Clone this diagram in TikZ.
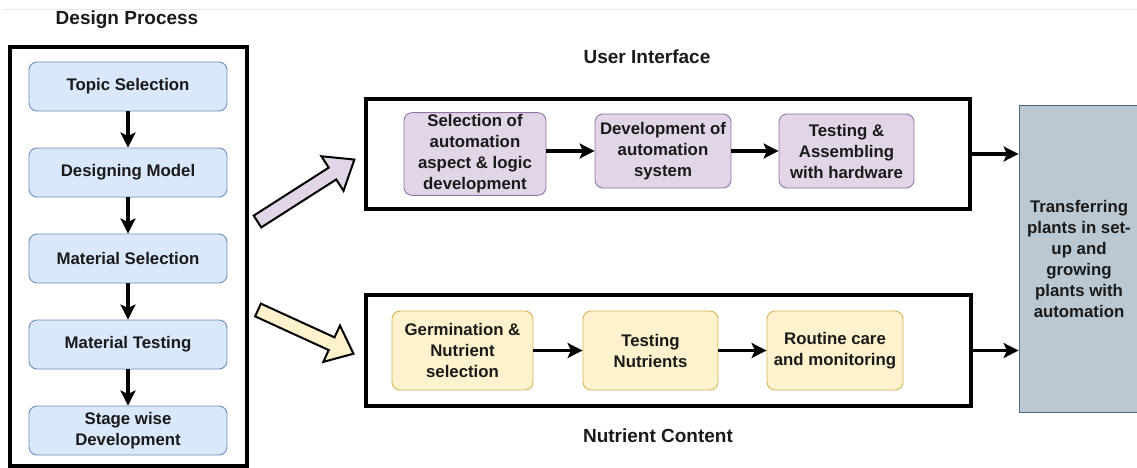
\documentclass[tikz,border=0pt]{standalone}
\usepackage{fontspec}
\setmainfont{Liberation Sans}
\usetikzlibrary{arrows.meta}
\definecolor{bluefill}{HTML}{DAE8FC}
\definecolor{blueline}{HTML}{6C8EBF}
\definecolor{purplefill}{HTML}{E1D5E7}
\definecolor{purpleline}{HTML}{9673A6}
\definecolor{yellowfill}{HTML}{FFF2CC}
\definecolor{yellowline}{HTML}{D6B656}
\definecolor{grayfill}{HTML}{BAC8D3}
\definecolor{grayline}{HTML}{4F6B80}
\definecolor{txt}{HTML}{1A1A1A}
\definecolor{faint}{HTML}{E4ECF1}
\tikzset{
  boxtext/.style={font=\bfseries\fontsize{16.8}{21}\selectfont, text=txt, align=center},
  stepbox/.style={boxtext, rounded corners=8pt, line width=0.9pt, inner sep=2pt},
  bluebox/.style={stepbox, draw=blueline, fill=bluefill, minimum width=198pt, minimum height=49pt},
  purplebox/.style={stepbox, draw=purpleline, fill=purplefill, minimum height=74pt},
  yellowbox/.style={stepbox, draw=yellowline, fill=yellowfill, minimum height=79pt},
  frame/.style={draw=black, line width=3.5pt, inner sep=0pt},
  title/.style={font=\bfseries\fontsize{19}{22}\selectfont, text=txt},
  arr/.style={draw=black, line width=3.2pt, -{Stealth[length=15pt, width=15pt, inset=3.5pt]}},
  blockarrow/.style={draw=black, line width=2pt, line join=miter}
}
\begin{document}
\begin{tikzpicture}[x=1pt, y=-1pt]
\useasboundingbox (0,0) rectangle (1137,468);
\fill[white] (0,0) rectangle (1137,468);
\draw[faint, line width=1pt] (3,10) -- (1137,10);

% titles
\node[title] (tdp) at (127,20) {Design Process};
\node[title] (tui) at (647,57) {User Interface};
\node[title] (tnc) at (658,436) {Nutrient Content};

% left frame and steps
\node[frame, minimum width=237pt, minimum height=419pt] (lf) at (128.5,256.5) {};
\node[bluebox] (b1) at (128,86.5) {Topic Selection};
\node[bluebox] (b2) at (128,172.5) {Designing Model};
\node[bluebox] (b3) at (128,258.5) {Material Selection};
\node[bluebox] (b4) at (128,344.5) {Material Testing};
\node[bluebox] (b5) at (128,430.5) {Stage wise\\Development};
\draw[arr] (b1) -- (b2);
\draw[arr] (b2) -- (b3);
\draw[arr] (b3) -- (b4);
\draw[arr] (b4) -- (b5);

% user interface row
\node[frame, minimum width=604pt, minimum height=110pt] (ui) at (668,154) {};
\node[purplebox, minimum width=142pt, minimum height=80pt] (p1) at (475,154) {Selection of\\automation\\aspect \& logic\\development};
\node[purplebox, minimum width=136pt] (p2) at (663,151) {Development of\\automation\\system};
\node[purplebox, minimum width=135pt] (p3) at (846.5,151) {Testing \&\\Assembling\\with hardware};
\draw[arr] (p1.east |- p2.west) -- (p2.west);
\draw[arr] (p2) -- (p3);

% nutrient row
\node[frame, minimum width=605pt, minimum height=111pt] (nc) at (668.5,350.5) {};
\node[yellowbox, minimum width=141pt] (y1) at (462.5,350.5) {Germination \&\\Nutrient\\selection};
\node[yellowbox, minimum width=135pt] (y2) at (650.5,350.5) {Testing\\Nutrients};
\node[yellowbox, minimum width=136pt] (y3) at (835,350.5) {Routine care\\and monitoring};
\draw[arr] (y1) -- (y2);
\draw[arr] (y2) -- (y3);

% final box
\node[stepbox, rounded corners=0pt, draw=grayline, fill=grayfill, minimum width=120pt, minimum height=307pt] (g) at (1079,258.5) {Transferring\\plants in set-\\up and\\growing\\plants with\\automation};
\draw[arr] (ui.east) -- (ui.east -| g.west);
\draw[arr] (nc.east) -- (nc.east -| g.west);

% block arrows
\begin{scope}[shift={(257.5,221.5)}, rotate=32.6]
\draw[blockarrow, fill=purplefill] (0,-7) -- (89,-7) -- (89,-20.5) -- (115,0) -- (89,20.5) -- (89,7) -- (0,7) -- cycle;
\end{scope}
\begin{scope}[shift={(258,310)}, rotate=-24.6]
\draw[blockarrow, fill=yellowfill] (0,-7) -- (81,-7) -- (81,-20) -- (105,0) -- (81,20) -- (81,7) -- (0,7) -- cycle;
\end{scope}
\end{tikzpicture}
\end{document}
